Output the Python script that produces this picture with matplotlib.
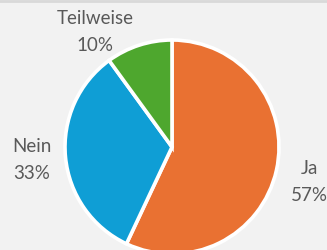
import matplotlib.pyplot as plt

# Daten
antworten = ['Ja', 'Nein', 'Teilweise']
anteile = [57, 33, 10]
farben = ['#E97132', '#0F9ED5', '#4EA72E']

# Label-Positionen in Pixeln (x, y von unten)
label_pos = {'Ja': (309, 68), 'Nein': (32, 90), 'Teilweise': (95, 218)}

fig = plt.figure(figsize=(3.27, 2.5), dpi=100)
fig.patch.set_facecolor('#F2F2F2')
ax = fig.add_axes([0, 0, 1, 1])
ax.set_facecolor('#F2F2F2')
ax.set_aspect('equal')
ax.axis('off')

ax.pie(anteile, colors=farben, startangle=90, counterclock=False,
       center=(172, 103), radius=107,
       wedgeprops=dict(edgecolor='white', linewidth=2.6))
ax.set_xlim(0, 327)
ax.set_ylim(0, 250)

for name, wert in zip(antworten, anteile):
    x, y = label_pos[name]
    ax.text(x, y, f'{name}\n{wert}%', ha='center', va='center',
            fontsize=13.5, color='#595959', family='Lato', linespacing=1.75)

# obere Kante
ax.axhline(249, color='#D9D9D9', linewidth=2)

plt.savefig('out.png', dpi=100, facecolor=fig.get_facecolor())
